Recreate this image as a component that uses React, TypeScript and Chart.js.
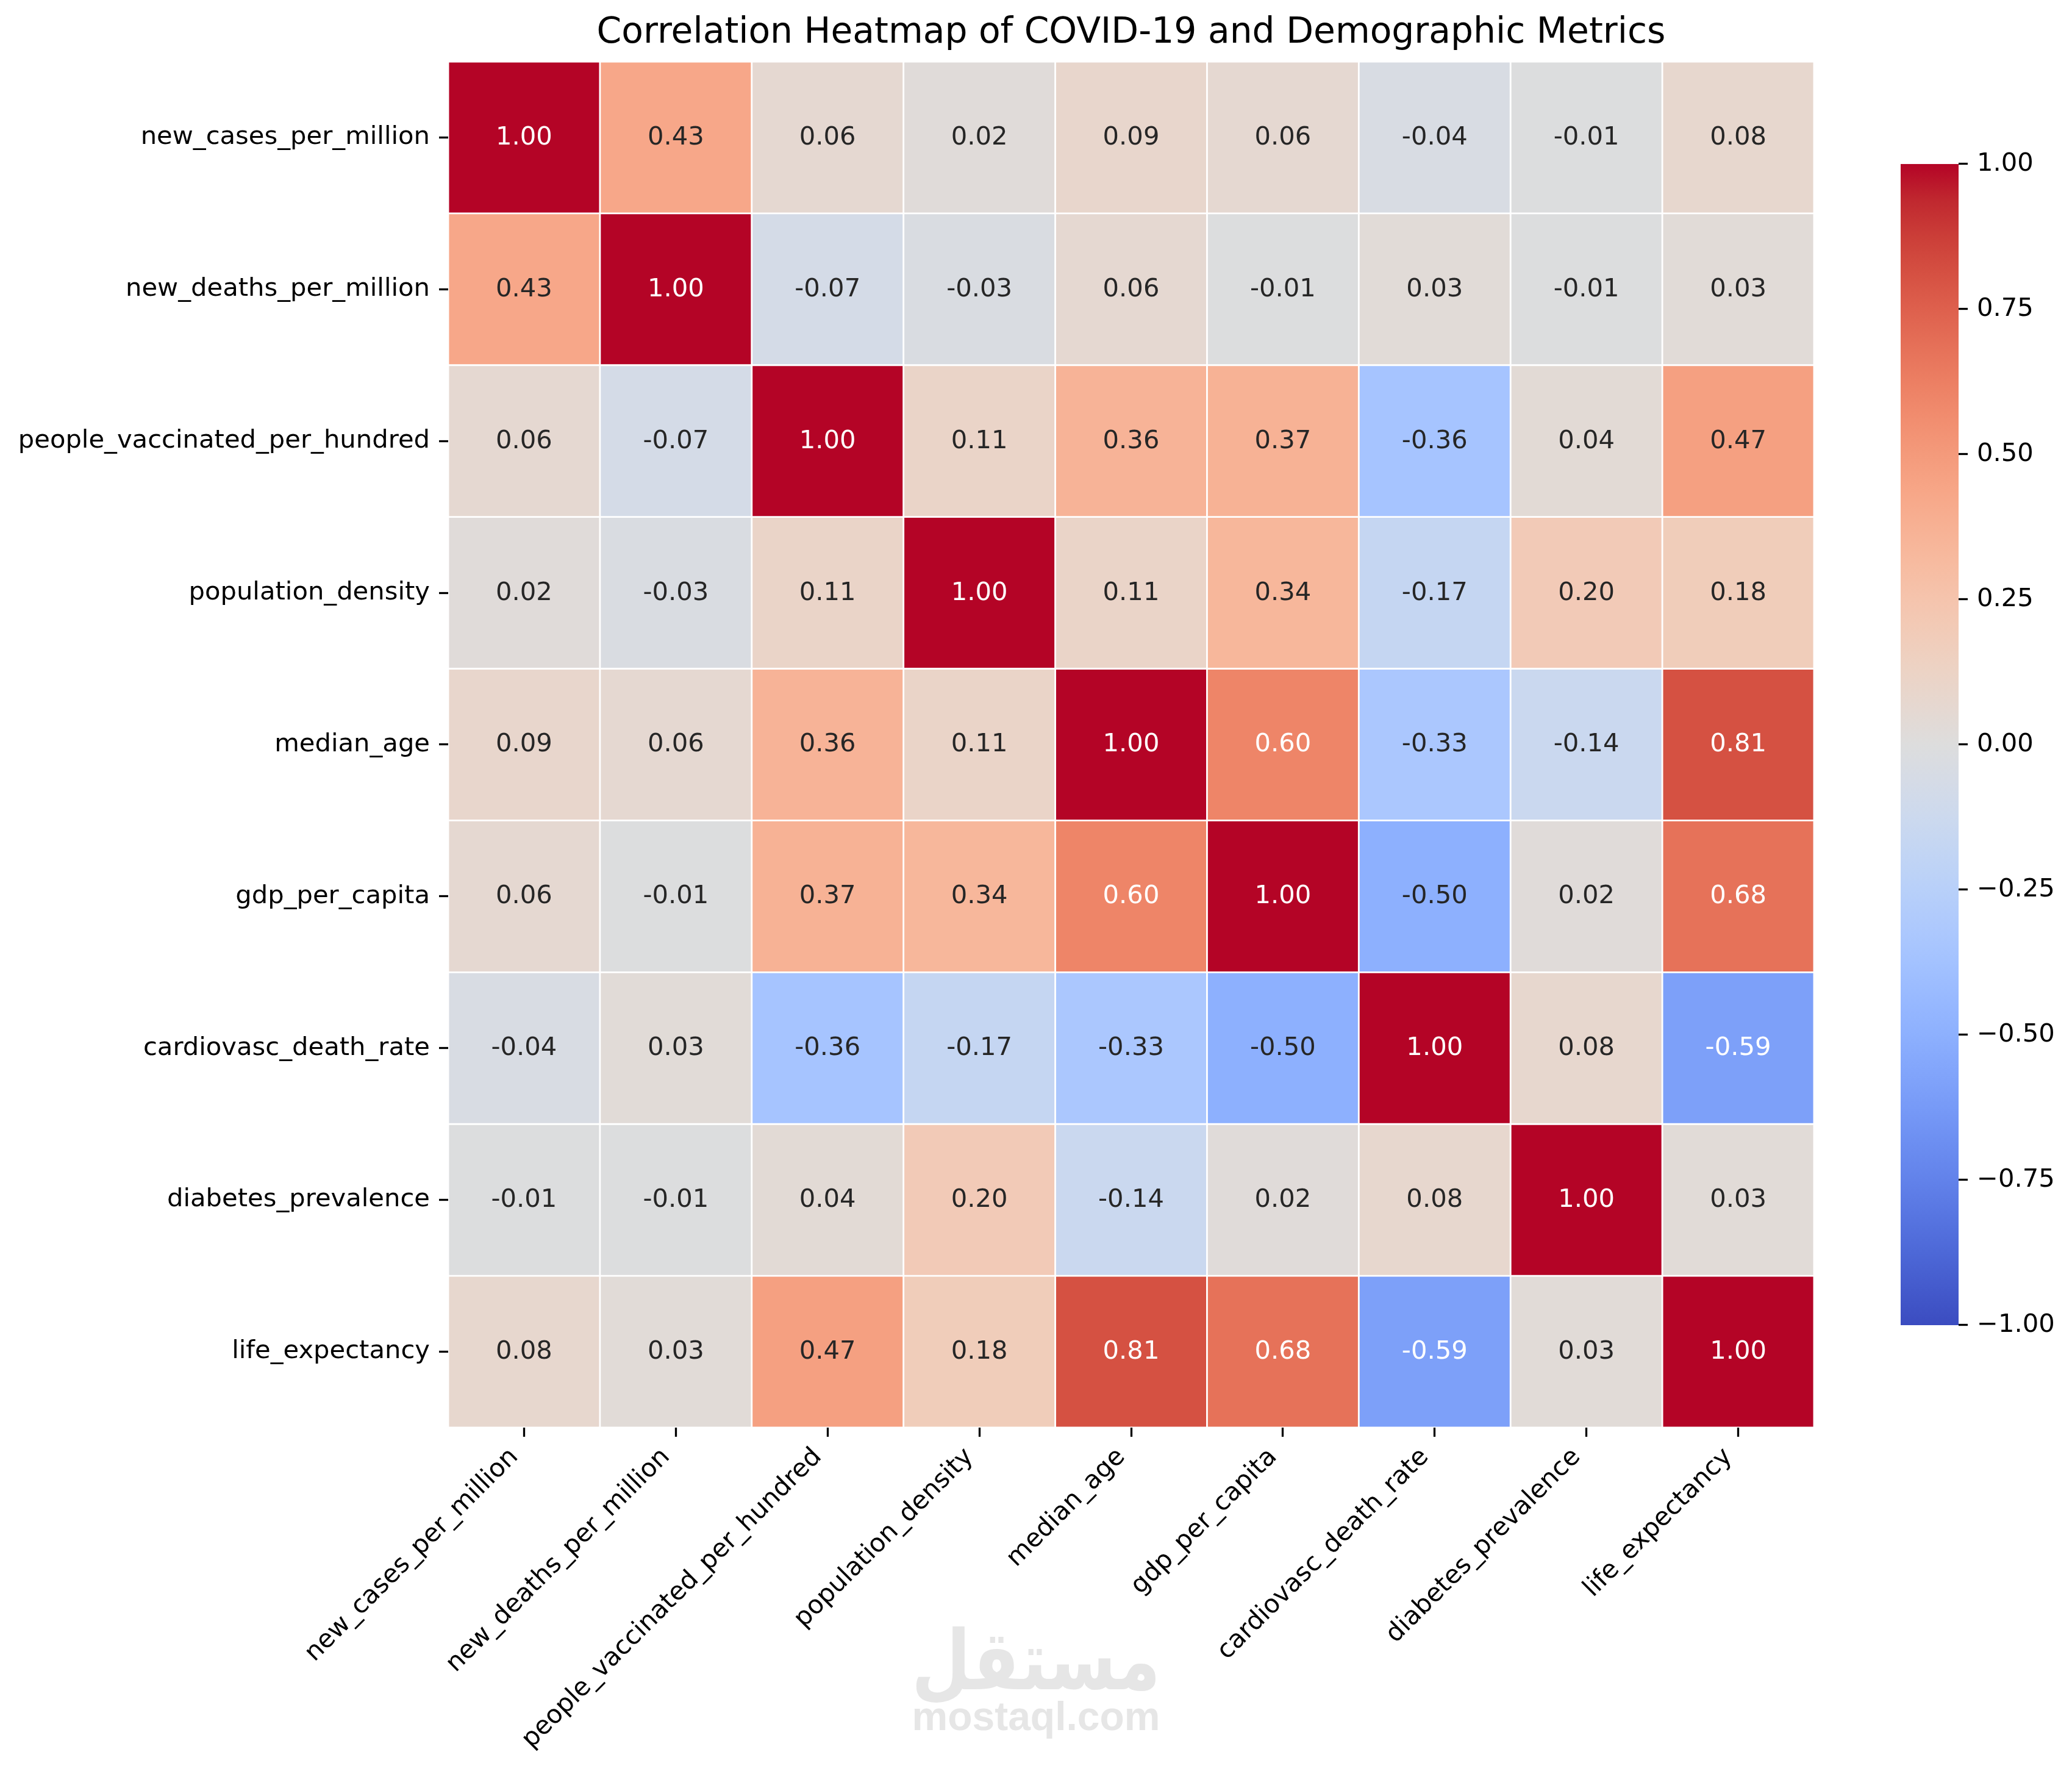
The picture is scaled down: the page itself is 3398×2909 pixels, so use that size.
import React, { useEffect, useRef } from 'react';
import { Chart, registerables } from 'chart.js';

Chart.register(...registerables);

// ---------------- data ----------------
const variables = [
  'new_cases_per_million',
  'new_deaths_per_million',
  'people_vaccinated_per_hundred',
  'population_density',
  'median_age',
  'gdp_per_capita',
  'cardiovasc_death_rate',
  'diabetes_prevalence',
  'life_expectancy',
];

const rowNewCases = [1.0, 0.43, 0.06, 0.02, 0.09, 0.06, -0.04, -0.01, 0.08];
const rowNewDeaths = [0.43, 1.0, -0.07, -0.03, 0.06, -0.01, 0.03, -0.01, 0.03];
const rowVaccinated = [0.06, -0.07, 1.0, 0.11, 0.36, 0.37, -0.36, 0.04, 0.47];
const rowDensity = [0.02, -0.03, 0.11, 1.0, 0.11, 0.34, -0.17, 0.2, 0.18];
const rowMedianAge = [0.09, 0.06, 0.36, 0.11, 1.0, 0.6, -0.33, -0.14, 0.81];
const rowGdp = [0.06, -0.01, 0.37, 0.34, 0.6, 1.0, -0.5, 0.02, 0.68];
const rowCardio = [-0.04, 0.03, -0.36, -0.17, -0.33, -0.5, 1.0, 0.08, -0.59];
const rowDiabetes = [-0.01, -0.01, 0.04, 0.2, -0.14, 0.02, 0.08, 1.0, 0.03];
const rowLifeExp = [0.08, 0.03, 0.47, 0.18, 0.81, 0.68, -0.59, 0.03, 1.0];

const correlationRows = [
  rowNewCases,
  rowNewDeaths,
  rowVaccinated,
  rowDensity,
  rowMedianAge,
  rowGdp,
  rowCardio,
  rowDiabetes,
  rowLifeExp,
];

const colorbarTicks = [-1, -0.75, -0.5, -0.25, 0, 0.25, 0.5, 0.75, 1];
const titleText = 'Correlation Heatmap of COVID-19 and Demographic Metrics';
const watermarkArabic = 'مستقل';
const watermarkLatin = 'mostaql.com';

// coolwarm colormap control points (33 evenly spaced)
const COOLWARM: number[][] = [
  [59, 76, 192], [68, 90, 204], [77, 104, 215], [87, 117, 225], [98, 130, 234],
  [108, 142, 241], [119, 154, 247], [130, 165, 251], [141, 176, 254], [152, 185, 255],
  [163, 194, 255], [174, 201, 253], [184, 208, 249], [194, 213, 244], [204, 217, 238],
  [213, 219, 230], [221, 221, 221], [229, 216, 209], [236, 211, 197], [241, 204, 185],
  [245, 196, 173], [247, 187, 160], [247, 177, 148], [247, 166, 135], [244, 154, 123],
  [241, 141, 111], [236, 127, 99], [229, 112, 88], [222, 96, 77], [213, 80, 66],
  [203, 62, 56], [192, 40, 47], [180, 4, 38],
];

function coolwarmRGB(t: number): number[] {
  const tt = Math.min(1, Math.max(0, t));
  const pos = tt * (COOLWARM.length - 1);
  const i = Math.min(COOLWARM.length - 2, Math.floor(pos));
  const f = pos - i;
  const a = COOLWARM[i];
  const b = COOLWARM[i + 1];
  return [0, 1, 2].map((k) => Math.round(a[k] + (b[k] - a[k]) * f));
}

function rgbStr(c: number[]) {
  return `rgb(${c[0]},${c[1]},${c[2]})`;
}

function valueColor(v: number) {
  return coolwarmRGB((v + 1) / 2);
}

function relLuminance(c: number[]) {
  const lin = c.map((x) => {
    const s = x / 255;
    return s <= 0.03928 ? s / 12.92 : Math.pow((s + 0.055) / 1.055, 2.4);
  });
  return 0.2126 * lin[0] + 0.7152 * lin[1] + 0.0722 * lin[2];
}

const FONT = "'DejaVu Sans', sans-serif";
const FS = 41.7;

const annotationPlugin = {
  id: 'annotations',
  afterDatasetsDraw(chart: any) {
    const { ctx } = chart;
    const xs = chart.scales.x;
    const ys = chart.scales.y;
    ctx.save();
    ctx.font = `${FS}px ${FONT}`;
    ctx.textAlign = 'center';
    ctx.textBaseline = 'alphabetic';
    correlationRows.forEach((row, r) => {
      row.forEach((v, c) => {
        const col = valueColor(v);
        ctx.fillStyle = relLuminance(col) > 0.408 ? '#262626' : '#ffffff';
        const x = xs.getPixelForValue(c);
        const y = ys.getPixelForValue(r);
        ctx.fillText(v.toFixed(2), x, y + 11.5);
      });
    });
    ctx.restore();
  },
};

const colorbarPlugin = {
  id: 'colorbar',
  afterDraw(chart: any) {
    const { ctx } = chart;
    const cb = chart.scales.cb;
    const yTop = cb.getPixelForValue(1);
    const yBot = cb.getPixelForValue(-1);
    const x1 = cb.left - 95;
    const grad = ctx.createLinearGradient(0, yBot, 0, yTop);
    COOLWARM.forEach((c, i) => grad.addColorStop(i / (COOLWARM.length - 1), rgbStr(c)));
    ctx.save();
    ctx.fillStyle = grad;
    ctx.fillRect(x1, yTop, 95, yBot - yTop);
    ctx.restore();
  },
};

const watermarkPlugin = {
  id: 'watermark',
  afterDraw(chart: any) {
    const { ctx } = chart;
    const cx = chart.width / 2;
    ctx.save();
    ctx.fillStyle = '#e6e6e6';
    ctx.textAlign = 'center';
    ctx.textBaseline = 'alphabetic';
    ctx.font = `bold 66px 'Liberation Sans', Arial, sans-serif`;
    ctx.fillText(watermarkLatin, cx, 2837);
    ctx.font = `bold 100px 'DejaVu Sans', sans-serif`;
    const w = ctx.measureText(watermarkArabic).width;
    const size = (100 * 408) / w;
    ctx.font = `bold ${size}px 'DejaVu Sans', sans-serif`;
    ctx.direction = 'rtl';
    ctx.translate(cx, 2770);
    ctx.scale(1, 1.22);
    ctx.fillText(watermarkArabic, 0, 0);
    ctx.restore();
  },
};

export default function App() {
  const canvasRef = useRef<HTMLCanvasElement | null>(null);

  useEffect(() => {
    if (!canvasRef.current) return;
    Chart.defaults.font.family = FONT;
    Chart.defaults.font.size = FS;
    Chart.defaults.color = '#000';

    const datasets = correlationRows.map((row, r) => ({
      label: variables[r],
      data: row.map(() => [r - 0.5, r + 0.5]),
      backgroundColor: row.map((v) => rgbStr(valueColor(v))),
      borderColor: '#ffffff',
      borderWidth: 1.75,
      borderSkipped: false,
      grouped: false,
      barPercentage: 1,
      categoryPercentage: 1,
    }));

    const tickGrid = {
      display: true,
      drawOnChartArea: false,
      drawTicks: true,
      tickLength: 15,
      tickWidth: 3.3,
      tickColor: '#000',
      offset: false,
    };

    const chart = new Chart(canvasRef.current, {
      type: 'bar',
      data: { labels: variables, datasets: datasets as any },
      plugins: [annotationPlugin, colorbarPlugin, watermarkPlugin],
      options: {
        animation: false,
        responsive: false,
        events: [],
        layout: { padding: 0 },
        plugins: {
          legend: { display: false },
          tooltip: { enabled: false },
          title: {
            display: true,
            text: titleText,
            fullSize: false,
            color: '#000',
            font: { family: FONT, size: 58.3, weight: 'normal', lineHeight: 1.2 },
            padding: { top: 20, bottom: 11 },
          },
        },
        scales: {
          x: {
            type: 'category',
            offset: true,
            grid: tickGrid as any,
            border: { display: false },
            ticks: {
              autoSkip: false,
              minRotation: 45,
              maxRotation: 45,
              padding: 9,
              labelOffset: -16,
              color: '#000',
              font: { family: FONT, size: FS },
            },
            afterFit: (s: any) => {
              s.height = 568;
            },
          },
          y: {
            type: 'linear',
            position: 'left',
            reverse: true,
            min: -0.5,
            max: 8.5,
            grid: tickGrid as any,
            border: { display: false },
            afterBuildTicks: (s: any) => {
              s.ticks = variables.map((_, i) => ({ value: i }));
            },
            ticks: {
              autoSkip: false,
              padding: 15,
              color: '#000',
              font: { family: FONT, size: FS },
              callback: (v: any) => variables[Number(v)] ?? '',
            },
            afterFit: (s: any) => {
              s.width = 735;
            },
          },
          spacer: {
            type: 'linear',
            axis: 'y',
            position: 'right',
            weight: 1,
            display: true,
            grid: { display: false },
            border: { display: false },
            ticks: { display: false },
            afterFit: (s: any) => {
              s.width = 237;
            },
          },
          cb: {
            type: 'linear',
            axis: 'y',
            position: 'right',
            weight: 2,
            min: -1.17647,
            max: 1.17647,
            grid: { ...tickGrid } as any,
            border: { display: false },
            afterBuildTicks: (s: any) => {
              s.ticks = colorbarTicks.map((v) => ({ value: v }));
            },
            ticks: {
              autoSkip: false,
              padding: 15,
              color: '#000',
              font: { family: FONT, size: FS },
              callback: (v: any) => {
                const n = Number(v);
                return (n < 0 ? '\u2212' : '') + Math.abs(n).toFixed(2);
              },
            },
            afterFit: (s: any) => {
              s.width = 186;
            },
          },
        } as any,
      },
    });

    return () => {
      chart.destroy();
    };
  }, []);

  return (
    <div style={{ position: 'absolute', left: 0, top: 0, width: 3398, height: 2909, background: '#fff' }}>
      <canvas ref={canvasRef} width={3398} height={2909} style={{ display: 'block', width: 3398, height: 2909 }} />
    </div>
  );
}
